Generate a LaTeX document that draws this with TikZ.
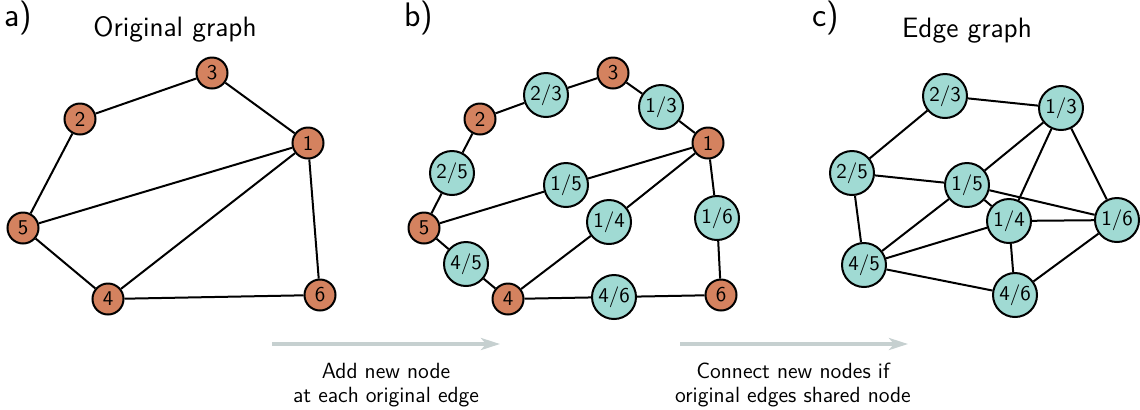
\documentclass[tikz,border=0pt]{standalone}
\usetikzlibrary{arrows.meta}
\definecolor{orangenoeud}{HTML}{D4825F}
\definecolor{turquoise}{HTML}{A0DAD3}
\definecolor{grisfleche}{HTML}{C6D0D0}
\begin{document}
\sffamily
\begin{tikzpicture}[x=0.5pt,y=-0.5pt,
	orig/.style={circle, draw, line width=1pt, fill=orangenoeud, minimum size=15.5pt, inner sep=0pt, font=\fontsize{10.5}{12}\selectfont},
	neuf/.style={circle, draw, line width=1pt, fill=turquoise, minimum size=22pt, inner sep=0pt, font=\fontsize{10.5}{12}\selectfont},
	arete/.style={line width=1pt},
	fleche/.style={line width=2pt, grisfleche, -{Stealth[length=9.5pt,width=6pt,inset=2.5pt]}},
	lettre/.style={font=\fontsize{17}{20}\selectfont, anchor=west},
	titre/.style={font=\fontsize{14}{16}\selectfont},
	legende/.style={font=\fontsize{11}{12}\selectfont, align=center}]
	\useasboundingbox (0,0) rectangle (1140,409);
	% les titres
	\node[lettre] (la) at (-3,18) {a)};
	\node[lettre] (lb) at (397,18) {b)};
	\node[lettre] (lc) at (805,18) {c)};
	\node[titre] (ta) at (175,29) {Original graph};
	\node[titre] (tc) at (967,31) {Edge graph};
	% le graphe original
	\node[orig] (a1) at (308,143) {1};
	\node[orig] (a2) at (80,119) {2};
	\node[orig] (a3) at (212,73) {3};
	\node[orig] (a4) at (108,299) {4};
	\node[orig] (a5) at (23,228) {5};
	\node[orig] (a6) at (320,295) {6};
	\foreach \u/\v in {2/3,3/1,1/5,1/4,1/6,2/5,5/4,4/6}
		\draw[arete] (a\u) -- (a\v);
	% les nouveaux noeuds sur les aretes
	\node[orig] (b1) at (708,143) {1};
	\node[orig] (b2) at (480,119) {2};
	\node[orig] (b3) at (613,73) {3};
	\node[orig] (b4) at (508,299) {4};
	\node[orig] (b5) at (424,228) {5};
	\node[orig] (b6) at (721,295) {6};
	\node[neuf] (b23) at (546,95) {2/3};
	\node[neuf] (b13) at (661,107) {1/3};
	\node[neuf] (b25) at (452,173) {2/5};
	\node[neuf] (b15) at (566,185) {1/5};
	\node[neuf] (b14) at (609,222) {1/4};
	\node[neuf] (b16) at (717,218) {1/6};
	\node[neuf] (b45) at (466,264) {4/5};
	\node[neuf] (b46) at (614,297) {4/6};
	\foreach \u/\m/\v in {2/23/3,3/13/1,1/15/5,1/14/4,1/16/6,2/25/5,5/45/4,4/46/6}
		\draw[arete] (b\u) -- (b\m) -- (b\v);
	% le graphe des aretes
	\node[neuf] (c23) at (945,96) {2/3};
	\node[neuf] (c13) at (1061,108) {1/3};
	\node[neuf] (c25) at (852,173) {2/5};
	\node[neuf] (c15) at (967,185) {1/5};
	\node[neuf] (c14) at (1009,221) {1/4};
	\node[neuf] (c16) at (1117,220) {1/6};
	\node[neuf] (c45) at (864,265) {4/5};
	\node[neuf] (c46) at (1015,295) {4/6};
	\foreach \u/\v in {23/13,23/25,25/15,25/45,13/15,13/14,13/16,15/14,15/16,15/45,14/16,14/45,14/46,45/46,46/16}
		\draw[arete] (c\u) -- (c\v);
	% les fleches
	\coordinate (f1a) at (272,344);
	\coordinate (f1b) at (500,344);
	\coordinate (f2a) at (680,344);
	\coordinate (f2b) at (908,344);
	\draw[fleche] (f1a) -- (f1b);
	\draw[fleche] (f2a) -- (f2b);
	\node[legende] (l1) at (386,385) {Add new node\\at each original edge};
	\node[legende] (l2) at (793,385) {Connect new nodes if\\original edges shared node};
\end{tikzpicture}
\end{document}
